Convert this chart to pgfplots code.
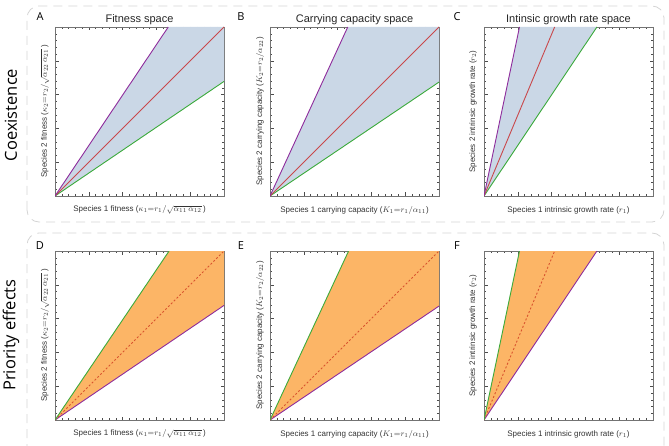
\documentclass[border=0pt]{standalone}
\usepackage{pgfplots}
\pgfplotsset{compat=1.18}
\usepackage{fontspec}
\setmainfont{Liberation Sans}
\newfontfamily\osans{Open Sans}
\definecolor{cpur}{HTML}{8E2C9C}
\definecolor{cred}{HTML}{C9484B}
\definecolor{cgrn}{HTML}{3BAA3B}
\definecolor{cblue}{HTML}{CAD7E6}
\definecolor{corg}{HTML}{FCB566}
\definecolor{cdash}{HTML}{D9542E}
\definecolor{cbox}{HTML}{D4D4D4}
\pgfplotsset{
  panel/.style={
    width=169pt,height=169pt,scale only axis,
    xmin=0,xmax=1,ymin=0,ymax=1,
    xtick={0,0.2,...,1.01},ytick={0,0.2,...,1.01},
    minor tick num=4,
    xticklabels={},yticklabels={},
    tick align=inside,
    major tick length=3.5pt,minor tick length=2pt,
    axis line style={draw=gray!90!black,line width=0.6pt},
    every tick/.style={gray!60!black,line width=0.4pt},
    anchor=south west,
  },
}
\newcommand{\xlab}[3]{\node[font=\fontsize{8}{9}\selectfont,text=black!80] at (#1pt,#2pt) {#3};}
\newcommand{\ylab}[3]{\node[font=\fontsize{8}{9}\selectfont,text=black!80,rotate=90] at (#1pt,#2pt) {#3};}
\newcommand{\ttl}[3]{\node[font=\fontsize{11}{12}\selectfont,text=black!85] at (#1pt,#2pt) {#3};}
\newcommand{\lett}[3]{\node[font=\osans\fontsize{11}{12}\selectfont] at (#1pt,#2pt) {#3};}
\begin{document}
\begin{tikzpicture}
\path[use as bounding box] (0pt,0pt) rectangle (669pt,445pt);
% dashed row boxes
\draw[cbox,line width=0.8pt,dash pattern=on 9pt off 6pt,rounded corners=12pt] (27pt,223pt) rectangle (664pt,439pt);
\draw[cbox,line width=0.8pt,dash pattern=on 9pt off 6pt,rounded corners=12pt] (27pt,-20pt) rectangle (664pt,212pt);
% row labels
\node[font=\osans\fontsize{16.5}{18}\selectfont,rotate=90] at (11pt,330pt) {Coexistence};
\node[font=\osans\fontsize{16.5}{18}\selectfont,rotate=90] at (11pt,110pt) {Priority effects};
% ---------- Row 1 ----------
\begin{axis}[panel,at={(55pt,249pt)}]
\addplot[fill=cblue,draw=none] coordinates {(0,0) (0.67,1) (1,1) (1,0.678) (0,0)};
\addplot[cgrn,line width=0.9pt] coordinates {(0,0) (1,0.678)};
\addplot[cred,line width=0.9pt] coordinates {(0,0) (1,1)};
\addplot[cpur,line width=0.9pt] coordinates {(0,0) (0.67,1)};
\end{axis}
\begin{axis}[panel,at={(270pt,249pt)}]
\addplot[fill=cblue,draw=none] coordinates {(0,0) (0.46,1) (1,1) (1,0.674) (0,0)};
\addplot[cgrn,line width=0.9pt] coordinates {(0,0) (1,0.674)};
\addplot[cred,line width=0.9pt] coordinates {(0,0) (1,1)};
\addplot[cpur,line width=0.9pt] coordinates {(0,0) (0.46,1)};
\end{axis}
\begin{axis}[panel,at={(484pt,249pt)}]
\addplot[fill=cblue,draw=none] coordinates {(0,0) (0.21,1) (0.668,1) (0,0)};
\addplot[cgrn,line width=0.9pt] coordinates {(0,0) (0.668,1)};
\addplot[cred,line width=0.9pt] coordinates {(0,0) (0.418,1)};
\addplot[cpur,line width=0.9pt] coordinates {(0,0) (0.21,1)};
\end{axis}
% ---------- Row 2 ----------
\begin{axis}[panel,at={(55pt,25pt)}]
\addplot[fill=corg,draw=none] coordinates {(0,0) (0.675,1) (1,1) (1,0.678) (0,0)};
\addplot[cpur,line width=0.9pt] coordinates {(0,0) (1,0.678)};
\addplot[cdash,line width=0.9pt,dash pattern=on 2pt off 2pt] coordinates {(0,0) (1,1)};
\addplot[cgrn,line width=0.9pt] coordinates {(0,0) (0.675,1)};
\end{axis}
\begin{axis}[panel,at={(270pt,25pt)}]
\addplot[fill=corg,draw=none] coordinates {(0,0) (0.465,1) (1,1) (1,0.674) (0,0)};
\addplot[cpur,line width=0.9pt] coordinates {(0,0) (1,0.674)};
\addplot[cdash,line width=0.9pt,dash pattern=on 2pt off 2pt] coordinates {(0,0) (1,1)};
\addplot[cgrn,line width=0.9pt] coordinates {(0,0) (0.465,1)};
\end{axis}
\begin{axis}[panel,at={(484pt,25pt)}]
\addplot[fill=corg,draw=none] coordinates {(0,0) (0.21,1) (0.668,1) (0,0)};
\addplot[cpur,line width=0.9pt] coordinates {(0,0) (0.668,1)};
\addplot[cdash,line width=0.9pt,dash pattern=on 2pt off 2pt] coordinates {(0,0) (0.418,1)};
\addplot[cgrn,line width=0.9pt] coordinates {(0,0) (0.21,1)};
\end{axis}
% titles and letters
\ttl{139.5}{425}{Fitness space}
\ttl{354.5}{425}{Carrying capacity space}
\ttl{568.5}{425}{Intinsic growth rate space}
\lett{40}{428}{A}
\lett{241}{428}{B}
\lett{457}{428}{C}
\lett{40}{199}{D}
\lett{241}{199}{E}
\lett{457}{199}{F}
% axis labels
\xlab{139.5}{235}{Species 1 fitness ($\kappa_1{=}r_1/\sqrt{\alpha_{11}\,\alpha_{12}}\,$)}
\xlab{354.5}{235}{Species 1 carrying capacity ($K_1{=}r_1/\alpha_{11}$)}
\xlab{568.5}{235}{Species 1 intrinsic growth rate ($r_1$)}
\xlab{139.5}{11}{Species 1 fitness ($\kappa_1{=}r_1/\sqrt{\alpha_{11}\,\alpha_{12}}\,$)}
\xlab{354.5}{11}{Species 1 carrying capacity ($K_1{=}r_1/\alpha_{11}$)}
\xlab{568.5}{11}{Species 1 intrinsic growth rate ($r_1$)}
\ylab{45}{333.5}{Species 2 fitness ($\kappa_2{=}r_2/\sqrt{\alpha_{22}\,\alpha_{21}}\,$)}
\ylab{260}{333.5}{Species 2 carrying capacity ($K_2{=}r_2/\alpha_{22}$)}
\ylab{473}{333.5}{Species 2 intrinsic growth rate ($r_2$)}
\ylab{45}{109.5}{Species 2 fitness ($\kappa_2{=}r_2/\sqrt{\alpha_{22}\,\alpha_{21}}\,$)}
\ylab{260}{109.5}{Species 2 carrying capacity ($K_2{=}r_2/\alpha_{22}$)}
\ylab{473}{109.5}{Species 2 intrinsic growth rate ($r_2$)}
\end{tikzpicture}
\end{document}
